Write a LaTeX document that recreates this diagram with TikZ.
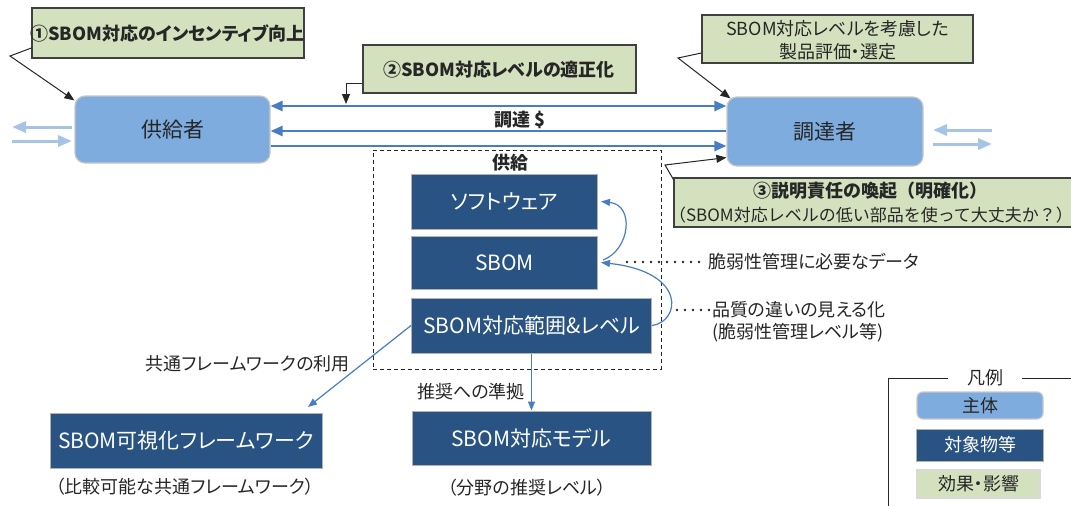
\documentclass[tikz,border=0pt]{standalone}
\usepackage{fontspec}
\setmainfont{Noto Sans CJK JP}[RawFeature=+palt]
\newfontfamily\fullw{Noto Sans CJK JP}
\usetikzlibrary{arrows.meta}
\definecolor{lblue}{RGB}{126,172,222}
\definecolor{dblue}{RGB}{41,83,130}
\definecolor{lgreen}{RGB}{212,225,190}
\definecolor{ablue}{RGB}{70,125,195}
\definecolor{sblue}{RGB}{166,196,229}
\definecolor{txt}{RGB}{38,38,38}
\begin{document}
\begin{tikzpicture}[x=1pt,y=-1pt,
  actor/.style={draw=black!22,line width=1.2pt,fill=lblue,rounded corners=10pt,inner sep=0pt,text=txt,font=\fontsize{21}{25}\selectfont},
  obj/.style={draw=black!30,line width=1pt,fill=dblue,inner sep=0pt,text=white,font=\fontsize{21}{25}\selectfont},
  eff/.style={draw=black!75,line width=1.2pt,fill=lgreen,inner sep=0pt},
  efftext/.style={font=\bfseries\fontsize{18}{22}\selectfont,text=txt,inner sep=0pt},
  note/.style={font=\fontsize{18}{23}\selectfont,text=txt,inner sep=0pt},
  flowline/.style={draw=ablue,line width=2.5pt},
  tip/.style={-{Triangle[length=12pt,width=10pt]}},
  side/.style={draw=sblue,line width=3pt,-{Triangle[length=14pt,width=11pt]}},
  callout/.style={draw=black!85,line width=1pt,-{Triangle[length=10pt,width=8pt]}},
  link/.style={draw=ablue,line width=1.2pt,-{Triangle[length=9pt,width=7pt]}},
  dotline/.style={draw=txt,line width=2.6pt,line cap=round,dash pattern=on 0pt off 8pt},
]
\useasboundingbox (0,0) rectangle (1071,506);

% actors
\node[actor,minimum width=195pt,minimum height=67pt] (sup) at (172.5,129.5) {供給者};
\node[actor,minimum width=196pt,minimum height=69pt] (buy) at (825,131.5) {調達者};

% main flows
\coordinate (y1) at (0,106);
\coordinate (y2) at (0,131);
\coordinate (y3) at (0,146);
\draw[flowline,{Triangle[length=12pt,width=10pt]}-{Triangle[length=12pt,width=10pt]}] (sup.east |- y1) -- (buy.west |- y1);
\draw[flowline,tip] (buy.west |- y2) -- (sup.east |- y2);
\draw[flowline,tip] (sup.east |- y3) -- (buy.west |- y3);
\node[efftext] (pay) at (520,120) {調達 \$};

% side arrows
\coordinate (la1) at (72,127); \coordinate (la2) at (12,127);
\coordinate (la3) at (12,141); \coordinate (la4) at (72,141);
\draw[side] (la1) -- (la2);
\draw[side] (la3) -- (la4);
\coordinate (ra1) at (992,130); \coordinate (ra2) at (933,130);
\coordinate (ra3) at (933,144); \coordinate (ra4) at (992,144);
\draw[side] (ra1) -- (ra2);
\draw[side] (ra3) -- (ra4);

% effect labels
\node[eff,minimum width=272pt,minimum height=50pt] (l1) at (168,33) {};
\node[efftext] (l1t) at (167.5,33) {①SBOM対応のインセンティブ向上};
\node[eff,minimum width=273pt,minimum height=48pt] (l2) at (499.5,69) {};
\node[efftext] (l2t) at (499,70) {②SBOM対応レベルの適正化};
\node[eff,minimum width=271pt,minimum height=48pt] (l4) at (837.5,39) {};
\node[note,align=center] (l4t) at (837.5,40.5) {SBOM対応レベルを考慮した\\製品評価・選定};
\node[eff,minimum width=400pt,minimum height=49pt] (l3) at (874,202.5) {};
\node[efftext,font=\fullw\bfseries\fontsize{18}{22}\selectfont] (l3a) at (870,191) {③説明責任の喚起（明確化）};
\node[note,font=\fullw\fontsize{17}{22}\selectfont] (l3b) at (871,215) {（SBOM対応レベルの低い部品を使って大丈夫か？）};

% callouts
\coordinate (k1) at (10,56);
\draw[callout] ([yshift=-15pt]l1.west) -- (k1) -- ([yshift=-5pt]sup.north west);
\coordinate (k2) at (346,83);
\coordinate (k2e) at (346,104);
\draw[callout] ([yshift=-14pt]l2.west) -- (k2) -- (k2e);
\coordinate (k4) at (678,58);
\draw[callout] ([yshift=-14pt]l4.west) -- (k4) -- ([xshift=4pt,yshift=-2pt]buy.north west);
\coordinate (k3) at (665,165);
\draw[callout] ([yshift=-2pt]l3.north west) -- (k3) -- ([yshift=9pt]buy.south west);

% supply group
\node[draw=txt,dash pattern=on 4pt off 3pt,line width=1pt,minimum width=288pt,minimum height=219pt,inner sep=0pt] (dbox) at (517,259.5) {};
\node[efftext] (supt) at (510,163) {供給};
\node[obj,minimum width=186pt,minimum height=55pt] (sw) at (504.5,201.5) {ソフトウェア};
\node[obj,minimum width=186pt,minimum height=53pt] (sb) at (504.5,262.5) {SBOM};
\node[obj,minimum width=240pt,minimum height=55pt] (rng) at (531.5,325.5) {SBOM対応範囲\&レベル};

\draw[link] ([xshift=5pt,yshift=2.5pt]sb.east) .. controls (630,250) and (635,205) .. ([xshift=3pt]sw.east);
\draw[link] (rng.east) .. controls (680,322) and (688,272) .. ([xshift=3pt]sb.east);

% notes on right
\node[note,anchor=west] (t5) at (708,262) {脆弱性管理に必要なデータ};
\node[note,anchor=west] (t6) at (712,310) {品質の違いの見える化};
\node[note,anchor=west] (t7) at (712,333) {(脆弱性管理レベル等)};
\coordinate (d1) at (627,262);
\coordinate (d2) at (677,310);
\draw[dotline,shorten >=3pt] (d1) -- (t5.west);
\draw[dotline,shorten >=3pt] (d2) -- (t6.west);

% bottom
\node[obj,minimum width=272pt,minimum height=55pt] (viz) at (186,440.5) {SBOM可視化フレームワーク};
\node[obj,minimum width=239pt,minimum height=54pt] (mdl) at (531.5,438) {SBOM対応モデル};
\coordinate (vizin) at (308,407);
\draw[link] (rng.west) -- (vizin);
\draw[link] (rng.south) -- (mdl.north);
\node[note,anchor=east] (t1) at (350,364) {共通フレームワークの利用};
\node[note,anchor=west] (t2) at (417,392) {推奨への準拠};
\node[note] (t3) at (185,487) {（比較可能な共通フレームワーク）};
\node[note] (t4) at (527,488) {（分野の推奨レベル）};

% legend
\draw[draw=txt,line width=1pt] (948,378) -- (888,378) -- (888,506);
\draw[draw=txt,line width=1pt] (1022,378) -- (1071,378);
\node[note] (lg) at (985,378) {凡例};
\node[actor,minimum width=126pt,minimum height=27pt,rounded corners=6pt,font=\fontsize{18}{20}\selectfont] (lga) at (980,405.5) {主体};
\node[obj,minimum width=127pt,minimum height=32pt,font=\fontsize{18}{20}\selectfont] (lgb) at (980,445) {対象物等};
\node[eff,draw=black!15,minimum width=123pt,minimum height=28pt,font=\fontsize{18}{20}\selectfont,text=txt] (lgc) at (978.5,484) {効果・影響};
\end{tikzpicture}
\end{document}
